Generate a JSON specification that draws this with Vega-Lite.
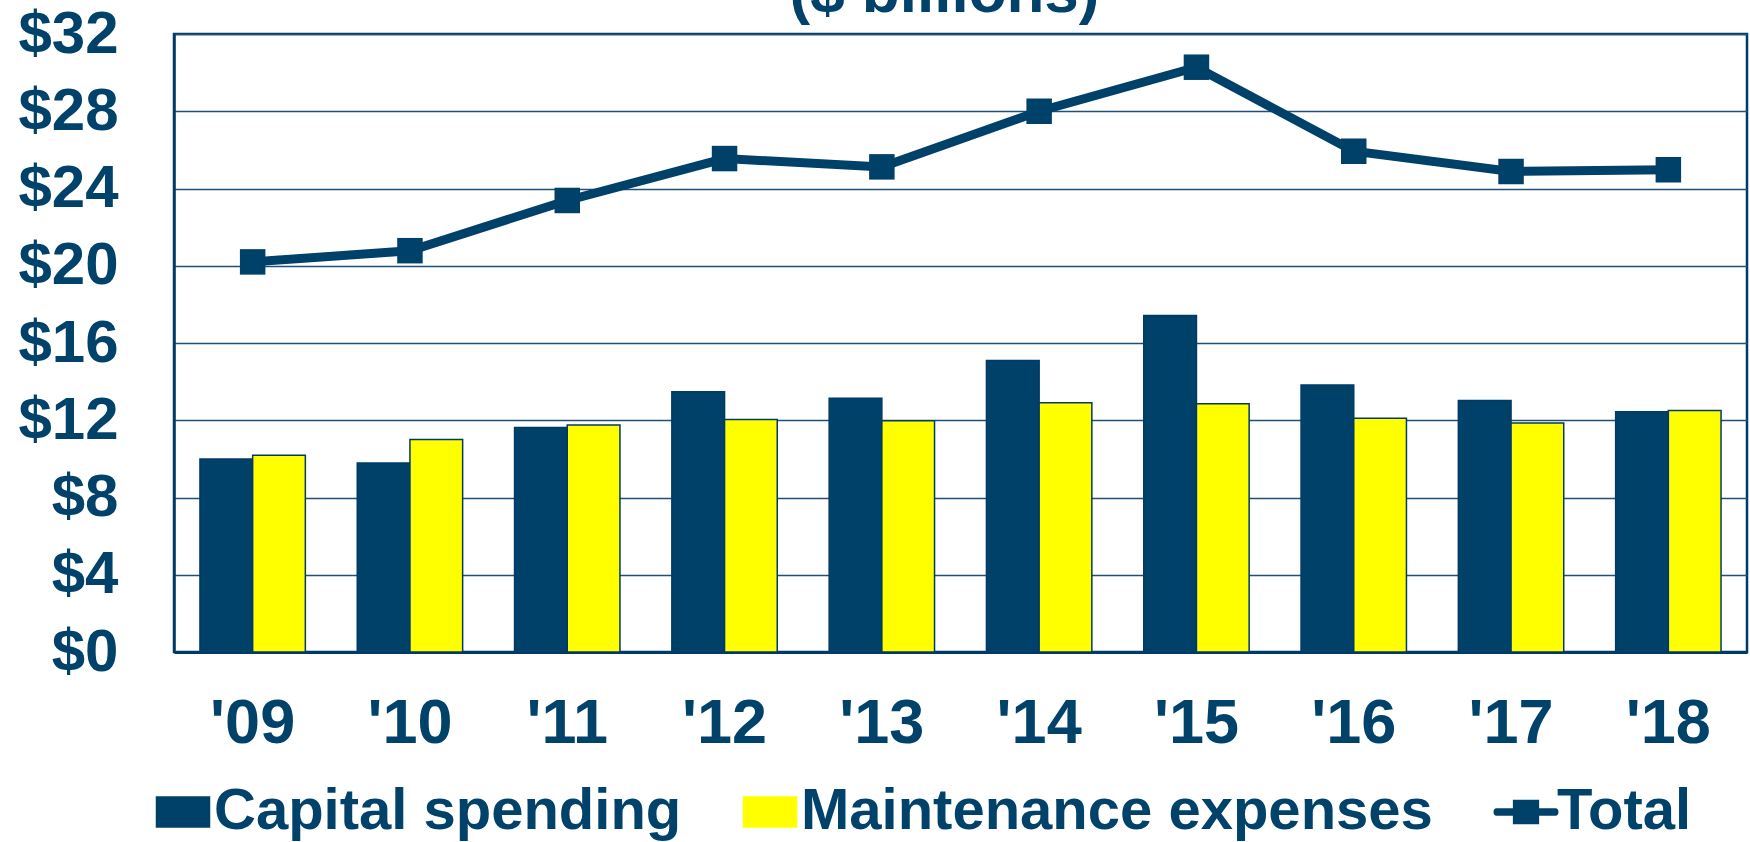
{
  "$schema": "https://vega.github.io/schema/vega-lite/v6.json",
  "autosize": "none",
  "width": 1573,
  "height": 618,
  "padding": {"left": 174, "top": 34, "right": 3, "bottom": 190},
  "background": "white",
  "config": {
    "view": {"stroke": "#003a66", "strokeWidth": 2.5},
    "font": "Liberation Sans"
  },
  "title": {
    "text": "($ billions)",
    "anchor": "middle",
    "font": "Liberation Sans",
    "fontSize": 62,
    "fontWeight": "bold",
    "color": "#00426a",
    "baseline": "alphabetic",
    "offset": 2,
    "dx": -16,
    "dy": 72
  },
  "datasets": {
    "bars": [
      {"year": "'09", "series": "Capital spending", "value": 10.0},
      {"year": "'09", "series": "Maintenance expenses", "value": 10.19},
      {"year": "'10", "series": "Capital spending", "value": 9.78},
      {"year": "'10", "series": "Maintenance expenses", "value": 11.0},
      {"year": "'11", "series": "Capital spending", "value": 11.63},
      {"year": "'11", "series": "Maintenance expenses", "value": 11.75},
      {"year": "'12", "series": "Capital spending", "value": 13.48},
      {"year": "'12", "series": "Maintenance expenses", "value": 12.04},
      {"year": "'13", "series": "Capital spending", "value": 13.14},
      {"year": "'13", "series": "Maintenance expenses", "value": 11.98},
      {"year": "'14", "series": "Capital spending", "value": 15.1},
      {"year": "'14", "series": "Maintenance expenses", "value": 12.9},
      {"year": "'15", "series": "Capital spending", "value": 17.42},
      {"year": "'15", "series": "Maintenance expenses", "value": 12.85},
      {"year": "'16", "series": "Capital spending", "value": 13.83},
      {"year": "'16", "series": "Maintenance expenses", "value": 12.1},
      {"year": "'17", "series": "Capital spending", "value": 13.02},
      {"year": "'17", "series": "Maintenance expenses", "value": 11.86},
      {"year": "'18", "series": "Capital spending", "value": 12.44},
      {"year": "'18", "series": "Maintenance expenses", "value": 12.5}
    ],
    "totals": [
      {"year": "'09", "total": 20.2},
      {"year": "'10", "total": 20.78},
      {"year": "'11", "total": 23.38},
      {"year": "'12", "total": 25.55},
      {"year": "'13", "total": 25.12},
      {"year": "'14", "total": 28.0},
      {"year": "'15", "total": 30.28},
      {"year": "'16", "total": 25.93},
      {"year": "'17", "total": 24.88},
      {"year": "'18", "total": 24.97}
    ]
  },
  "encoding": {
    "x": {
      "field": "year",
      "type": "nominal",
      "sort": null,
      "scale": {"paddingInner": 0.33, "paddingOuter": 0.165},
      "axis": {
        "title": null,
        "labelAngle": 0,
        "labelFont": "Liberation Sans",
        "labelFontSize": 63,
        "labelFontWeight": "bold",
        "labelColor": "#00426a",
        "labelBaseline": "alphabetic",
        "labelPadding": 90,
        "ticks": false,
        "tickSize": 0,
        "domainColor": "#003a66",
        "domainWidth": 3,
        "grid": false
      }
    }
  },
  "layer": [
    {
      "data": {"name": "bars"},
      "mark": {"type": "bar", "stroke": "#003a66", "strokeWidth": 1.5},
      "encoding": {
        "xOffset": {"field": "series", "type": "nominal", "sort": ["Capital spending", "Maintenance expenses"]},
        "y": {
          "field": "value",
          "type": "quantitative",
          "scale": {"domain": [0, 32], "nice": false},
          "axis": {
            "title": null,
            "values": [0, 4, 8, 12, 16, 20, 24, 28, 32],
            "labelExpr": "'$' + datum.value",
            "labelFont": "Liberation Sans",
            "labelFontSize": 60,
            "labelFontWeight": "bold",
            "labelColor": "#00426a",
            "labelPadding": 56,
            "ticks": false,
            "tickSize": 0,
            "domainColor": "#003a66",
            "domainWidth": 2.5,
            "grid": true,
            "gridColor": "#1f5078",
            "gridWidth": 1.3
          }
        },
        "color": {
          "field": "series",
          "type": "nominal",
          "scale": {
            "domain": ["Capital spending", "Maintenance expenses", "Total"],
            "range": ["#004169", "#ffff00", "#004169"]
          },
          "legend": {
            "title": null,
            "orient": "none",
            "legendX": -20,
            "legendY": 749,
            "direction": "horizontal",
            "columns": 3,
            "columnPadding": 58,
            "labelFont": "Liberation Sans",
            "labelFontSize": 58,
            "labelFontWeight": "bold",
            "labelColor": "#00426a",
            "labelOffset": 2,
            "labelLimit": 1000,
            "symbolSize": 3481,
            "encoding": {
              "symbols": {
                "shape": {"value": {"expr": "datum.value === 'Total' ? 'M-1,-0.1H1C1.1,-0.1 1.1,0.1 1,0.1H-1C-1.1,0.1 -1.1,-0.1 -1,-0.1Z M-0.42,-0.39H0.42V0.39H-0.42Z' : 'M-1,-0.57H1V0.57H-1Z'"}},
                "size": {"value": {"expr": "datum.value === 'Total' ? 3481 : 2809"}},
                "fill": {"value": {"expr": "datum.value === 'Maintenance expenses' ? '#ffff00' : '#004169'"}},
                "stroke": {"value": {"expr": "datum.value === 'Total' ? 'transparent' : '#003a66'"}},
                "strokeWidth": {"value": 1.5},
                "opacity": {"value": 1},
                "fillOpacity": {"value": 1}
              }
            }
          }
        }
      }
    },
    {
      "data": {"name": "totals"},
      "mark": {"type": "line", "strokeWidth": 9},
      "encoding": {
        "y": {"field": "total", "type": "quantitative"},
        "color": {"datum": "Total"}
      }
    },
    {
      "data": {"name": "totals"},
      "mark": {"type": "point", "shape": "square", "filled": true, "size": 650, "opacity": 1},
      "encoding": {
        "y": {"field": "total", "type": "quantitative"},
        "color": {"datum": "Total"}
      }
    }
  ]
}
